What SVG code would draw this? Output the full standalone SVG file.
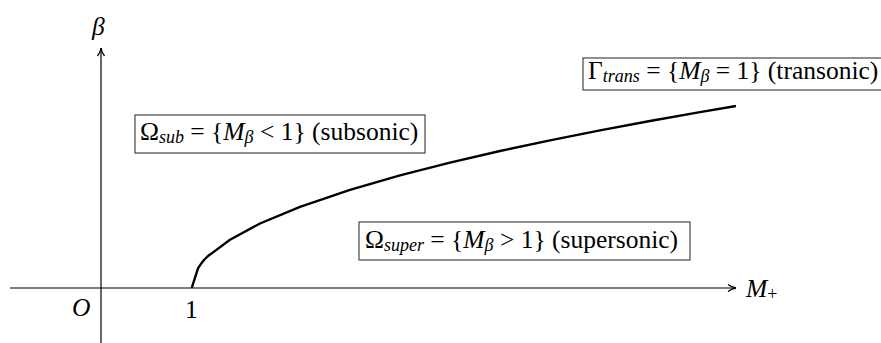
<svg xmlns="http://www.w3.org/2000/svg" width="881" height="343" viewBox="0 0 881 343">
<style>
.ax{stroke:#000;stroke-width:1.2;fill:none}
.cv{stroke:#000;stroke-width:2.4;fill:none;stroke-linejoin:round}
.box{fill:#fff;stroke:#333;stroke-width:1.1}
.t{font-family:'Liberation Serif','Times New Roman',serif;font-size:25.5px;fill:#000}
.it{font-style:italic}
.sb{font-size:18px}
</style>
<defs>
<marker id="arr" viewBox="0 0 10 10" refX="9" refY="5" markerWidth="10" markerHeight="10" markerUnits="userSpaceOnUse" orient="auto">
<path d="M1,1.5 Q5,4.5 9,5 Q5,5.5 1,8.5" fill="none" stroke="#000" stroke-width="1.3"/>
</marker>
</defs>
<g id="connectors">
<line class="ax" x1="10" y1="288" x2="736" y2="288" marker-end="url(#arr)"/>
<line class="ax" x1="101" y1="343" x2="101" y2="48" marker-end="url(#arr)"/>
<path class="cv" d="M191.7,288 L198,268.4 C202,262 205,258 210,254.6 L230,239.7 L260,223.5 L300,206.8 L350,189.9 L400,175.4 L450,162.6 L500,151 L550,140.4 L600,130.4 L650,121 L700,112.1 L736,106"/>
</g>
<g id="labels">
<text class="t it" x="92" y="35">β</text>
<text class="t it" x="746" y="297">M<tspan class="sb" dy="3" font-style="normal">+</tspan></text>
<text class="t it" x="72" y="316">O</text>
<text class="t" x="185" y="318">1</text>
</g>
<g id="subsonic">
<rect class="box" x="135" y="115" width="290" height="38"/>
<text class="t" x="140" y="140">Ω<tspan class="it sb" dy="3">sub</tspan><tspan dy="-3"> = {</tspan><tspan class="it">M</tspan><tspan class="it sb" dy="3">β</tspan><tspan dy="-3"> &lt; 1} (subsonic)</tspan></text>
</g>
<g id="transonic">
<rect class="box" x="583" y="58" width="305" height="32"/>
<text class="t" x="588" y="79">Γ<tspan class="it sb" dy="3">trans</tspan><tspan dy="-3"> = {</tspan><tspan class="it">M</tspan><tspan class="it sb" dy="3">β</tspan><tspan dy="-3"> = 1} (transonic)</tspan></text>
</g>
<g id="supersonic">
<rect class="box" x="359" y="222" width="331" height="38"/>
<text class="t" x="365" y="248">Ω<tspan class="it sb" dy="3">super</tspan><tspan dy="-3"> = {</tspan><tspan class="it">M</tspan><tspan class="it sb" dy="3">β</tspan><tspan dy="-3"> &gt; 1} (supersonic)</tspan></text>
</g>
</svg>
